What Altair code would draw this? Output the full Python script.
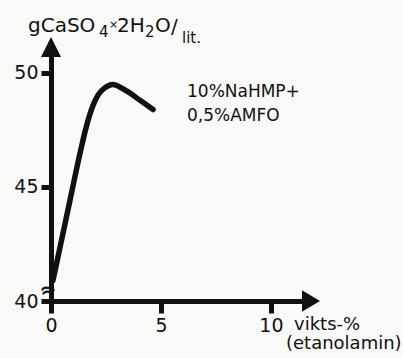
import altair as alt
import pandas as pd

# ---- data ----
conc = [0.09, 0.86, 1.30, 1.62, 1.90, 2.15, 2.45, 2.80, 3.45, 4.05, 4.64]
gyps = [40.9, 44.4, 46.4, 47.7, 48.55, 49.05, 49.35, 49.5, 49.2, 48.8, 48.4]
x_ticks = [0, 5, 10]
y_ticks = [40, 45, 50]
X_MIN, X_MAX = 0, 11.82
Y_MIN, Y_MAX = 40, 51.14

INK = "#111111"
FONT = "DejaVu Sans"
LEFT, TOP = 51, 47

df = pd.DataFrame({"conc": conc, "gyps": gyps})

xs = alt.Scale(domain=[X_MIN, X_MAX], nice=False, zero=False)
ys = alt.Scale(domain=[Y_MIN, Y_MAX], nice=False, zero=False)

axis_common = dict(
    domainColor=INK, domainWidth=5, domainCap="square",
    tickColor=INK, tickWidth=5,
    labelFont=FONT, labelFontSize=19, labelColor=INK,
    grid=False, title=None, labelFlush=False, labelOverlap=False,
)

line = alt.Chart(df).mark_line(
    color=INK, strokeWidth=5.5, strokeCap="round", strokeJoin="round", interpolate="monotone"
).encode(
    x=alt.X("conc:Q", scale=xs, axis=alt.Axis(values=x_ticks, tickSize=12, labelPadding=3, **axis_common)),
    y=alt.Y("gyps:Q", scale=ys, axis=alt.Axis(values=y_ticks, tickSize=10, labelPadding=3, **axis_common)),
)

# arrow heads at the ends of the axes
arrow_y = alt.Chart(pd.DataFrame({"x": [X_MIN], "y": [Y_MAX]})).mark_point(
    shape="M0,-1L-1,1L1,1Z", size=400, filled=True, color=INK, opacity=1, strokeWidth=0, clip=False
).encode(x=alt.X("x:Q", scale=xs), y=alt.Y("y:Q", scale=ys))

arrow_x = alt.Chart(pd.DataFrame({"x": [X_MAX], "y": [Y_MIN]})).mark_point(
    shape="M1,0L-1,-1.2L-1,1.2Z", size=324, filled=True, color=INK, opacity=1, strokeWidth=0, clip=False
).encode(x=alt.X("x:Q", scale=xs), y=alt.Y("y:Q", scale=ys))

# text pieces: (text, left px, baseline px, font size)
title_parts = [
    ("gCaSO", 28, 32, 20),
    ("4", 99, 37, 15),
    ("×", 109, 28, 11),
    ("2H", 117, 32, 20),
    ("2", 145, 37, 15),
    ("O", 155, 32, 20),
    ("/", 171, 33, 20),
    ("lit.", 182, 43, 15),
]
note_parts = [
    ("10%NaHMP+", 187, 97, 17),
    ("0,5%AMFO", 187, 121, 17),
    ("vikts-%", 294, 330, 18),
    ("(etanolamin)", 286, 349, 18),
]

texts = []
for t, px, py, fs in title_parts + note_parts:
    texts.append(
        alt.Chart(pd.DataFrame({"t": [t]})).mark_text(
            align="left", baseline="alphabetic", font=FONT, fontSize=fs, color=INK
        ).encode(text="t:N", x=alt.value(px - LEFT), y=alt.value(py - TOP))
    )

brk = alt.Chart(pd.DataFrame({"t": ["≈"]})).mark_text(
    align="center", baseline="middle", font=FONT, fontSize=20, fontWeight="bold", color=INK, angle=345
).encode(text="t:N", x=alt.value(48 - LEFT), y=alt.value(290 - TOP))

chart = alt.layer(line, arrow_y, arrow_x, brk, *texts).properties(
    width=260, height=254,
    padding={"left": LEFT, "top": TOP, "right": 92, "bottom": 57},
    autosize="none",
    background="#f9f9f7",
).configure_view(stroke=None)

chart.save("out.html", embed_options={"renderer": "svg", "actions": False})
